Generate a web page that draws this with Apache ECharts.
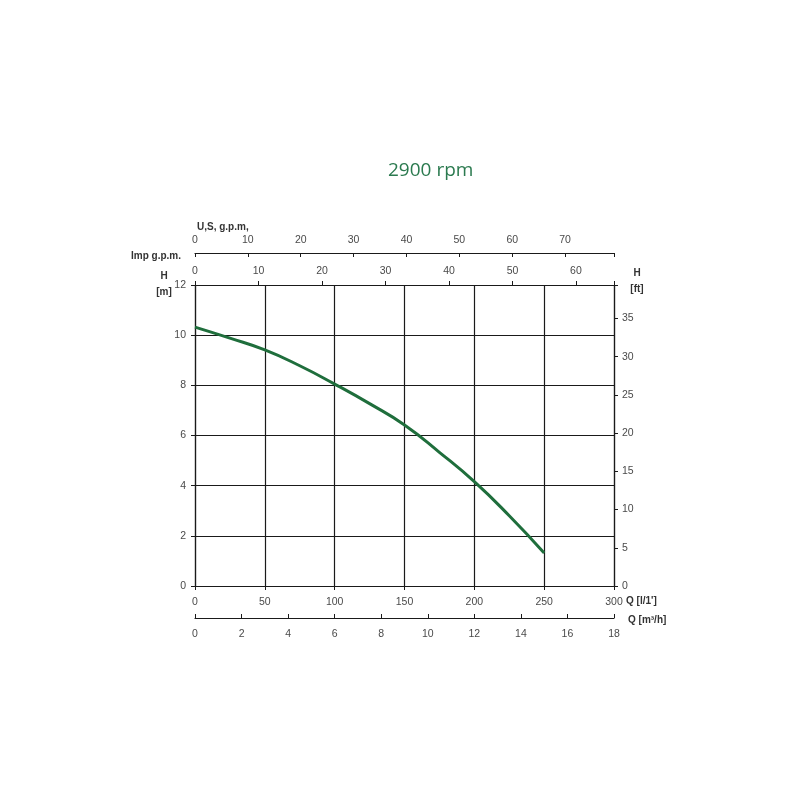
<!DOCTYPE html>
<html>
<head>
<meta charset="utf-8">
<script src="https://cdn.jsdelivr.net/npm/echarts@6/dist/echarts.min.js"></script>
<style>html,body{margin:0;padding:0;background:#fff}#c{width:800px;height:800px}</style>
</head>
<body>
<div id="c"></div>
<script>
// Flow Q [l/min] and head H [m]
const flowLpm = [0, 25, 50, 75, 100, 125, 150, 175, 200, 225, 250];
const headM   = [10.32, 9.88, 9.41, 8.78, 8.05, 7.27, 6.42, 5.33, 4.16, 2.80, 1.32];

const Q_MAX_LPM = 300;
const H_MAX_M = 12;
const M3H_MAX = Q_MAX_LPM * 60 / 1000;      // 18
const IMP_MAX = Q_MAX_LPM / 4.54609;         // imperial gallons per minute
const US_MAX  = Q_MAX_LPM / 3.78541;         // US gallons per minute
const FT_MAX  = H_MAX_M / 0.3048;            // feet

const titleText = '2900 rpm';

const font = 'Liberation Sans, Arial, sans-serif';
const txt = '#4a4a4a';
const lineC = '#1a1a1a';
const LFS = 10.5;
const nameStyle = { fontFamily: font, fontSize: 10, fontWeight: 'bold', color: '#333', lineHeight: 16 };

function multFmt(step) {
  return function (v) {
    const r = Math.round(v);
    if (Math.abs(v - r) > 1e-6 || r % step !== 0) return '';
    return String(r);
  };
}
const axLine = { show: true, onZero: false, lineStyle: { color: lineC, width: 1.2 } };

const chart = echarts.init(document.getElementById('c'));
chart.setOption({
  animation: false,
  title: [
    { text: titleText, left: 383, top: 156,
      textStyle: { fontFamily: 'Open Sans, sans-serif', fontSize: 19, fontWeight: 'normal', color: '#2b7a4f' } },
    { text: 'U,S, g.p.m,', left: 192, top: 214, textStyle: nameStyle },
    { text: 'Imp g.p.m.', left: 126, top: 243, textStyle: nameStyle },
    { text: 'H\n[m]', left: 159, top: 263, textAlign: 'center', textStyle: nameStyle },
    { text: 'H\n[ft]', left: 632, top: 260, textAlign: 'center', textStyle: nameStyle }
  ],
  grid: { left: 195, right: 186, top: 285, bottom: 214, containLabel: false },
  xAxis: [
    { type: 'value', position: 'bottom', min: 0, max: Q_MAX_LPM, interval: 50,
      axisLine: axLine,
      axisTick: { show: true, inside: false, length: 4, lineStyle: { color: lineC } },
      splitLine: { show: true, lineStyle: { color: lineC, width: 1.2 } },
      axisLabel: { color: txt, fontFamily: font, fontSize: LFS, margin: 11 },
      name: "Q [l/1']", nameLocation: 'end', nameGap: 12, nameMoveOverlap: false,
      nameTextStyle: { color: '#333', fontFamily: font, fontSize: 10, fontWeight: 'bold',
                       verticalAlign: 'top', padding: [10, 0, 0, 0] } },
    { type: 'value', position: 'bottom', offset: 32, min: 0, max: M3H_MAX, interval: 2,
      axisLine: axLine,
      axisTick: { show: true, inside: true, length: 4, lineStyle: { color: lineC } },
      splitLine: { show: false },
      axisLabel: { color: txt, fontFamily: font, fontSize: LFS, margin: 11 },
      name: 'Q [m³/h]', nameLocation: 'end', nameGap: 14, nameMoveOverlap: false,
      nameTextStyle: { color: '#333', fontFamily: font, fontSize: 10, fontWeight: 'bold',
                       verticalAlign: 'top', padding: [-3, 0, 0, 0] } },
    { type: 'value', position: 'top', offset: 0, min: 0, max: IMP_MAX, interval: 10,
      axisLine: axLine,
      axisTick: { show: true, inside: false, length: 4, lineStyle: { color: lineC } },
      splitLine: { show: false },
      axisLabel: { color: txt, fontFamily: font, fontSize: LFS, margin: 8, formatter: multFmt(10) } },
    { type: 'value', position: 'top', offset: 32, min: 0, max: US_MAX, interval: 10,
      axisLine: axLine,
      axisTick: { show: true, inside: true, length: 4, lineStyle: { color: lineC } },
      splitLine: { show: false },
      axisLabel: { color: txt, fontFamily: font, fontSize: LFS, margin: 7, formatter: multFmt(10) } }
  ],
  yAxis: [
    { type: 'value', position: 'left', min: 0, max: H_MAX_M, interval: 2,
      axisLine: axLine,
      axisTick: { show: true, inside: false, length: 4, lineStyle: { color: lineC } },
      splitLine: { show: true, lineStyle: { color: lineC, width: 1.2 } },
      axisLabel: { color: txt, fontFamily: font, fontSize: LFS, margin: 9 } },
    { type: 'value', position: 'right', min: 0, max: FT_MAX, interval: 5,
      axisLine: axLine,
      axisTick: { show: true, inside: false, length: 4, lineStyle: { color: lineC } },
      splitLine: { show: false },
      axisLabel: { color: txt, fontFamily: font, fontSize: LFS, margin: 8, formatter: multFmt(5) } }
  ],
  series: [
    { type: 'line', xAxisIndex: 0, yAxisIndex: 0, smooth: true, showSymbol: false,
      data: flowLpm.map((q, i) => [q, headM[i]]),
      lineStyle: { color: '#1f6e3c', width: 3 }, itemStyle: { color: '#1f6e3c' } }
  ]
});
</script>
</body>
</html>
